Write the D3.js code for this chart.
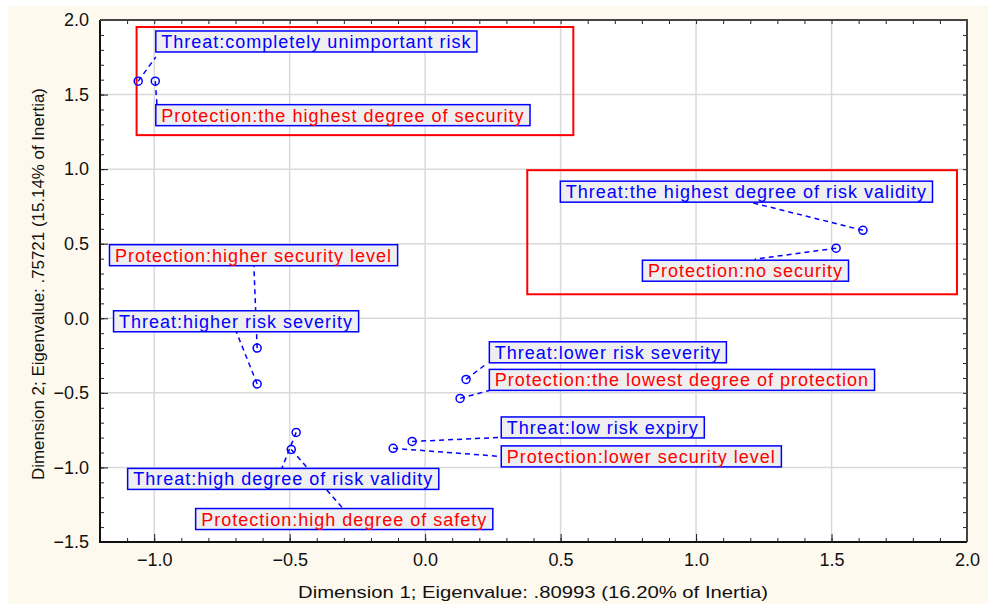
<!DOCTYPE html>
<html><head><meta charset="utf-8">
<script src="https://cdn.jsdelivr.net/npm/d3@7/dist/d3.min.js"></script>
<style>body{margin:0;background:#fff;}svg{display:block;font-family:"Liberation Sans",Arial,sans-serif;}</style>
</head><body><div id="chart"></div>
<script>
// ---- data ----
const labels = [
  "Threat:completely unimportant risk",
  "Protection:the highest degree of security",
  "Threat:the highest degree of risk validity",
  "Protection:no security",
  "Protection:higher security level",
  "Threat:higher risk severity",
  "Threat:lower risk severity",
  "Protection:the lowest degree of protection",
  "Threat:low risk expiry",
  "Protection:lower security level",
  "Threat:high degree of risk validity",
  "Protection:high degree of safety"
];
const dim1 = [-1.059, -0.996, 1.616, 1.517, -0.62, -0.62, 0.151, 0.129, -0.048, -0.118, -0.476, -0.494];
const dim2 = [1.59, 1.59, 0.59, 0.47, -0.20, -0.44, -0.41, -0.537, -0.826, -0.872, -0.765, -0.879];
// label box anchors (left edge, vertical centre) in data units
const labelX = [-0.994, -0.994, 0.499, 0.802, -1.165, -1.150, 0.237, 0.237, 0.281, 0.281, -1.098, -0.847];
const labelY = [1.856, 1.362, 0.849, 0.319, 0.423, -0.020, -0.228, -0.413, -0.732, -0.926, -1.077, -1.346];
// leader line ends in data units
const leadX = [-0.994, -0.990, 1.198, 1.216, -0.632, -0.699, 0.229, 0.237, 0.274, 0.277, -0.529, -0.307];
const leadY = [1.752, 1.436, 0.779, 0.396, 0.349, -0.081, -0.302, -0.484, -0.799, -0.926, -1.007, -1.268];
// highlight rectangles [x0, y0, x1, y1]
const highlights = [[-1.065, 1.953, 0.547, 1.228], [0.377, 0.993, 1.963, 0.161]];
const xTicks = [-1.0, -0.5, 0.0, 0.5, 1.0, 1.5, 2.0];
const yTicks = [-1.5, -1.0, -0.5, 0.0, 0.5, 1.0, 1.5, 2.0];
const xTitle = "Dimension 1; Eigenvalue: .80993 (16.20% of Inertia)";
const yTitle = "Dimension 2; Eigenvalue: .75721 (15.14% of Inertia)";

// ---- layout ----
const W = 988, H = 604;
const L = 100, R = 967, T = 20, B = 542;
const x = d3.scaleLinear().domain([-1.2, 2.0]).range([L, R]);
const y = d3.scaleLinear().domain([-1.5, 2.0]).range([B, T]);
const blue = "#0000ff", red = "#ff0000";

const svg = d3.select("#chart").append("svg").attr("width", W).attr("height", H);
svg.append("rect").attr("x", 8).attr("y", 6).attr("width", W - 8).attr("height", H - 6).attr("fill", "#fdf9ee");
svg.append("rect").attr("x", L).attr("y", T).attr("width", R - L).attr("height", B - T).attr("fill", "#fff");

// grid
const grid = svg.append("g");
grid.selectAll(".gx").data(xTicks).join("line")
  .attr("x1", d => x(d)).attr("x2", d => x(d)).attr("y1", T).attr("y2", B)
  .attr("stroke", "#d9d9d9").attr("stroke-width", 1.5);
grid.selectAll(".gy").data(yTicks).join("line")
  .attr("y1", d => y(d)).attr("y2", d => y(d)).attr("x1", L).attr("x2", R)
  .attr("stroke", "#d9d9d9").attr("stroke-width", 1.5);

// axes (ticks inward)
const minorX = d3.range(-12, 21).map(i => i / 10);
const minorY = d3.range(-15, 21).map(i => i / 10);
function axisG(axis, tr) {
  const g = svg.append("g").attr("transform", tr).call(axis);
  g.select(".domain").remove();
  g.selectAll("line").attr("stroke", "#222");
  return g;
}
axisG(d3.axisBottom(x).tickValues(minorX).tickSize(-4).tickFormat(""), `translate(0,${B})`);
axisG(d3.axisTop(x).tickValues(minorX).tickSize(-4).tickFormat(""), `translate(0,${T})`);
axisG(d3.axisLeft(y).tickValues(minorY).tickSize(-4).tickFormat(""), `translate(${L},0)`);
axisG(d3.axisRight(y).tickValues(minorY).tickSize(-4).tickFormat(""), `translate(${R},0)`);
const xa = axisG(d3.axisBottom(x).tickValues(xTicks).tickSize(-8).tickPadding(11).tickFormat(d3.format(".1f")), `translate(0,${B})`);
xa.selectAll("text").attr("font-size", 18).attr("fill", "#111").attr("font-family", "Liberation Sans, Arial");
const ya = axisG(d3.axisLeft(y).tickValues(yTicks).tickSize(-8).tickPadding(11).tickFormat(d3.format(".1f")), `translate(${L},0)`);
ya.selectAll("text").attr("font-size", 18).attr("fill", "#111").attr("font-family", "Liberation Sans, Arial");

// frame
svg.append("line").attr("x1", L).attr("x2", L).attr("y1", T).attr("y2", B + 1).attr("stroke", "#111").attr("stroke-width", 2);
svg.append("line").attr("x1", L - 1).attr("x2", R).attr("y1", B).attr("y2", B).attr("stroke", "#111").attr("stroke-width", 2);
svg.append("line").attr("x1", L).attr("x2", R + 1).attr("y1", T).attr("y2", T).attr("stroke", "#444").attr("stroke-width", 2);
svg.append("line").attr("x1", R).attr("x2", R).attr("y1", T).attr("y2", B).attr("stroke", "#444").attr("stroke-width", 2);

// titles
svg.append("text").attr("x", (298 + 768) / 2).attr("y", 598).attr("text-anchor", "middle")
  .attr("font-size", 17).attr("fill", "#111").attr("textLength", 470).attr("lengthAdjust", "spacingAndGlyphs").text(xTitle);
svg.append("text").attr("transform", "translate(44,284) rotate(-90)").attr("text-anchor", "middle")
  .attr("font-size", 17).attr("fill", "#111").attr("textLength", 392).attr("lengthAdjust", "spacingAndGlyphs").text(yTitle);

// highlight rectangles
svg.selectAll(".hl").data(highlights).join("rect")
  .attr("x", d => x(d[0])).attr("y", d => y(d[1]))
  .attr("width", d => x(d[2]) - x(d[0])).attr("height", d => y(d[3]) - y(d[1]))
  .attr("fill", "none").attr("stroke", red).attr("stroke-width", 2);

// leader lines
const idx = d3.range(labels.length);
svg.selectAll(".lead").data(idx).join("line")
  .attr("x1", i => x(dim1[i])).attr("y1", i => y(dim2[i]))
  .attr("x2", i => x(leadX[i])).attr("y2", i => y(leadY[i]))
  .attr("stroke", blue).attr("stroke-width", 1.5).attr("stroke-dasharray", "5,4");

// points
svg.selectAll(".pt").data(idx).join("circle")
  .attr("cx", i => x(dim1[i])).attr("cy", i => y(dim2[i])).attr("r", 4)
  .attr("fill", "none").attr("stroke", blue).attr("stroke-width", 1.5);

// labels
const lg = svg.selectAll(".lab").data(idx).join("g")
  .attr("transform", i => `translate(${x(labelX[i])},${y(labelY[i])})`);
lg.append("rect").attr("class", "box");
lg.append("text").attr("x", 5.5).attr("y", 6.5).attr("font-size", 18).attr("letter-spacing", 1)
  .attr("fill", i => labels[i].startsWith("Threat") ? blue : red)
  .text(i => labels[i]);
lg.each(function () {
  const g = d3.select(this);
  const bb = g.select("text").node().getBBox();
  g.select("rect").attr("x", 0).attr("y", -10.5).attr("width", bb.width + 11).attr("height", 21)
    .attr("fill", "#efefef").attr("stroke", blue).attr("stroke-width", 1.5);
});
</script>
</body></html>
